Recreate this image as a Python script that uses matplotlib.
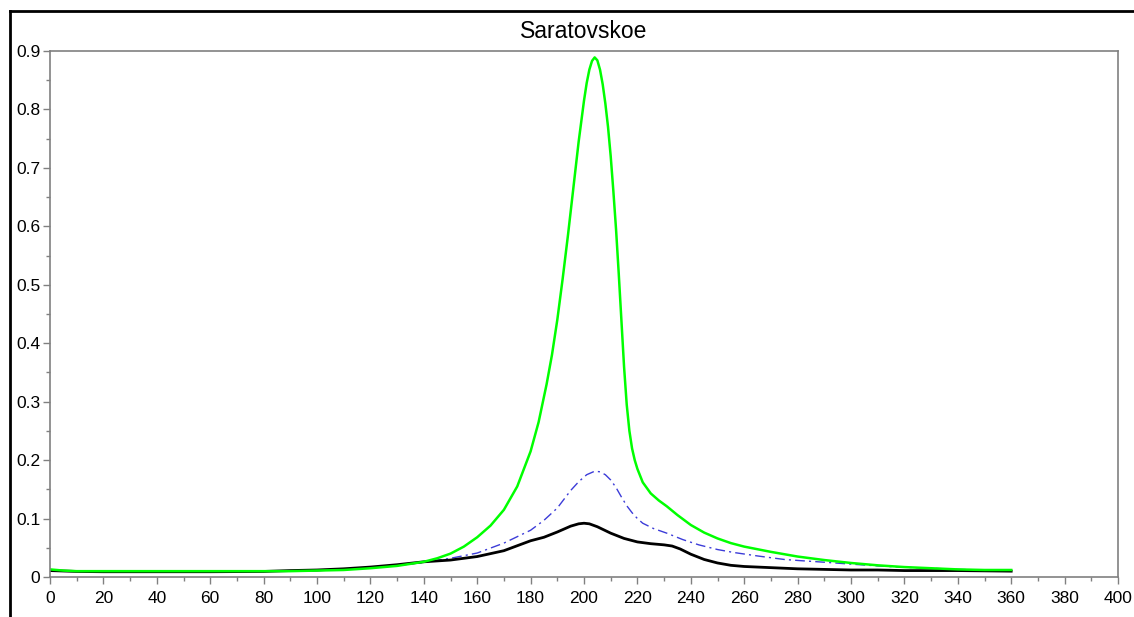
import matplotlib
matplotlib.use("Agg")
import matplotlib.pyplot as plt
from matplotlib.lines import Line2D
from matplotlib.ticker import MultipleLocator, FuncFormatter

plt.rcParams['font.family'] = ['Liberation Sans', 'DejaVu Sans']

# green series
x_green = [0, 5, 10, 25, 60, 90, 100, 110, 120, 130, 140, 145, 150, 155, 160, 165,
           170, 175, 180, 183, 186, 188, 190, 192, 194, 196, 198, 199, 200, 201, 202,
           203, 204, 205, 206, 207, 208, 209, 210, 211, 212, 213, 214, 215, 216, 217,
           218, 219, 220, 222, 225, 228, 231, 235, 240, 245, 250, 255, 260, 270, 280,
           290, 300, 310, 320, 330, 340, 350, 360]
y_green = [0.013, 0.011, 0.010, 0.010, 0.010, 0.010, 0.011, 0.012, 0.015, 0.019, 0.026,
           0.032, 0.040, 0.052, 0.068, 0.088, 0.115, 0.155, 0.215, 0.265, 0.330, 0.380,
           0.440, 0.510, 0.585, 0.665, 0.745, 0.780, 0.815, 0.845, 0.868, 0.883, 0.889,
           0.884, 0.868, 0.843, 0.810, 0.770, 0.720, 0.660, 0.595, 0.520, 0.440, 0.360,
           0.295, 0.250, 0.220, 0.200, 0.185, 0.162, 0.143, 0.131, 0.121, 0.106, 0.089,
           0.076, 0.066, 0.058, 0.052, 0.043, 0.035, 0.029, 0.024, 0.020, 0.017, 0.015,
           0.013, 0.012, 0.012]

# blue dash-dot series
x_blue = [0, 10, 25, 60, 90, 100, 110, 120, 130, 140, 150, 160, 170, 180, 185, 190,
          195, 198, 201, 204, 206, 208, 210, 212, 214, 216, 218, 220, 222, 226, 231,
          237, 243, 250, 256, 265, 275, 281, 291, 300, 310, 318, 330, 340, 350, 360]
y_blue = [0.011, 0.010, 0.010, 0.010, 0.010, 0.011, 0.013, 0.016, 0.020, 0.025, 0.032,
          0.041, 0.058, 0.080, 0.097, 0.118, 0.148, 0.163, 0.175, 0.181, 0.180, 0.175,
          0.166, 0.153, 0.137, 0.122, 0.110, 0.100, 0.092, 0.083, 0.075, 0.064, 0.055,
          0.047, 0.042, 0.036, 0.030, 0.028, 0.025, 0.022, 0.019, 0.017, 0.015, 0.013,
          0.012, 0.011]

# black series
x_black = [0, 10, 20, 25, 40, 60, 80, 90, 100, 110, 120, 130, 140, 150, 160, 170, 180,
           185, 190, 195, 198, 200, 202, 205, 210, 215, 220, 225, 230, 233, 236, 240,
           245, 250, 255, 260, 270, 280, 290, 300, 310, 320, 340, 360]
y_black = [0.011, 0.0095, 0.009, 0.009, 0.009, 0.009, 0.0095, 0.011, 0.012, 0.014,
           0.017, 0.021, 0.026, 0.029, 0.035, 0.045, 0.062, 0.068, 0.077, 0.087, 0.091,
           0.092, 0.091, 0.086, 0.075, 0.066, 0.060, 0.057, 0.055, 0.053, 0.048, 0.039,
           0.030, 0.024, 0.020, 0.018, 0.016, 0.014, 0.013, 0.012, 0.012, 0.011, 0.011,
           0.010]

fig = plt.figure(figsize=(11.34, 6.17), dpi=100)
ax = fig.add_axes([50 / 1134, 40 / 617, 1068 / 1134, 526 / 617])

ax.plot(x_blue, y_blue, color='#3c3cd8', lw=1.0, linestyle=(0, (7, 3, 1.5, 3)))
ax.plot(x_black, y_black, color='black', lw=2.0)
ax.plot(x_green, y_green, color='#00ff00', lw=1.8)

ax.set_xlim(0, 400)
ax.set_ylim(0, 0.9)
ax.xaxis.set_major_locator(MultipleLocator(20))
ax.xaxis.set_minor_locator(MultipleLocator(10))
ax.yaxis.set_major_locator(MultipleLocator(0.1))
ax.yaxis.set_minor_locator(MultipleLocator(0.05))
ax.yaxis.set_major_formatter(FuncFormatter(lambda v, p: '0' if abs(v) < 1e-9 else '%.1f' % v))

for s in ax.spines.values():
    s.set_color('#808080')
    s.set_linewidth(1.2)
ax.tick_params(which='major', direction='out', length=5, width=1, color='#808080',
               labelsize=12.5, labelcolor='black')
ax.tick_params(which='minor', direction='out', length=3, width=1, color='#808080')
ax.tick_params(axis='x', which='major', pad=5)
ax.tick_params(axis='y', which='major', pad=2)

ax.set_title('Saratovskoe', fontsize=16.5, pad=9)

# outer frame lines
fig.add_artist(Line2D([10 / 1134, 1], [1 - 11 / 617, 1 - 11 / 617], color='black', lw=2,
                      transform=fig.transFigure))
fig.add_artist(Line2D([10 / 1134, 10 / 1134], [0, 1 - 11 / 617], color='black', lw=2,
                      transform=fig.transFigure))

fig.savefig('out.png', dpi=100)
